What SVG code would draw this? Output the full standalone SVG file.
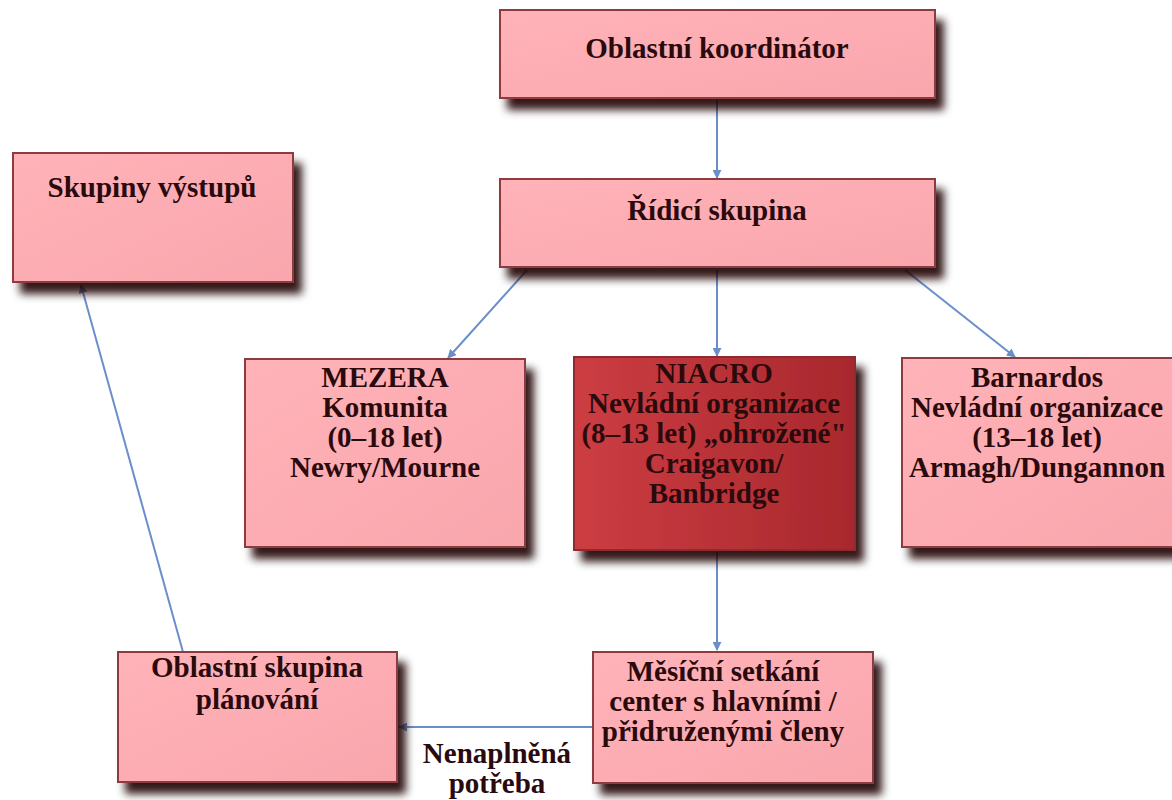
<svg xmlns="http://www.w3.org/2000/svg" width="1172" height="800" viewBox="0 0 1172 800">
<defs>
<filter id="sh" x="-10%" y="-10%" width="130%" height="140%">
<feDropShadow dx="8" dy="11" stdDeviation="4.5" flood-color="#1a0404" flood-opacity="0.9"/>
</filter>
<linearGradient id="pink" x1="0" y1="0" x2="1" y2="1">
<stop offset="0" stop-color="#FFB3B8"/>
<stop offset="1" stop-color="#F9A6AD"/>
</linearGradient>
<linearGradient id="red" x1="0" y1="0" x2="1" y2="0">
<stop offset="0" stop-color="#CC3D42"/>
<stop offset="1" stop-color="#A8282D"/>
</linearGradient>
<marker id="ah" viewBox="0 0 10 10" refX="9" refY="5" markerWidth="9" markerHeight="9" orient="auto" markerUnits="userSpaceOnUse">
<path d="M0,0 L10,5 L0,10 z" fill="#6A8FC8"/>
</marker>
<style>
.box{fill:url(#pink);stroke:#8E3B40;stroke-width:2;filter:url(#sh)}
.dark{fill:url(#red);stroke:#8E2B30;stroke-width:2;filter:url(#sh)}
text{font-family:'Liberation Serif','DejaVu Serif',serif;font-weight:bold;font-size:29px;fill:#2a0a0c;text-anchor:middle}
.conn line{stroke:#6A8FC8;stroke-width:2;marker-end:url(#ah)}
</style>
</defs>
<rect width="1172" height="800" fill="#ffffff"/>
<g class="conn">
<line x1="717" y1="100" x2="717" y2="178"/>
<line x1="527" y1="270" x2="448" y2="358"/>
<line x1="717" y1="270" x2="717" y2="356"/>
<line x1="905" y1="270" x2="1015" y2="357"/>
<line x1="717" y1="552" x2="717" y2="650"/>
<line x1="593" y1="727" x2="399" y2="727"/>
<line x1="183" y1="652" x2="81" y2="285"/>
</g>
<g id="n-koordinator">
<rect class="box" x="500" y="10" width="435" height="88"/>
<text x="717" y="58">Oblastní koordinátor</text>
</g>
<g id="n-ridici">
<rect class="box" x="500" y="179" width="435" height="88"/>
<text x="717" y="220">Řídicí skupina</text>
</g>
<g id="n-vystupy">
<rect class="box" x="13" y="153" width="280" height="129"/>
<text x="152" y="197">Skupiny výstupů</text>
</g>
<g id="n-mezera">
<rect class="box" x="245" y="359" width="280" height="188"/>
<text x="385" y="387">MEZERA</text>
<text x="385" y="417">Komunita</text>
<text x="385" y="447">(0–18 let)</text>
<text x="385" y="477">Newry/Mourne</text>
</g>
<g id="n-niacro">
<rect class="dark" x="574" y="357" width="281" height="193"/>
<text x="714" y="383">NIACRO</text>
<text x="714" y="413">Nevládní organizace</text>
<text x="714" y="443">(8–13 let) „ohrožené"</text>
<text x="714" y="473">Craigavon/</text>
<text x="714" y="503">Banbridge</text>
</g>
<g id="n-barnardos">
<rect class="box" x="902" y="358" width="280" height="189"/>
<text x="1037" y="387">Barnardos</text>
<text x="1037" y="417">Nevládní organizace</text>
<text x="1037" y="447">(13–18 let)</text>
<text x="1037" y="477">Armagh/Dungannon</text>
</g>
<g id="n-planovani">
<rect class="box" x="118" y="652" width="279" height="130"/>
<text x="257" y="677">Oblastní skupina</text>
<text x="257" y="709">plánování</text>
</g>
<g id="n-setkani">
<rect class="box" x="593" y="652" width="280" height="131"/>
<text x="723" y="681">Měsíční setkání</text>
<text x="723" y="711">center s hlavními /</text>
<text x="723" y="741">přidruženými členy</text>
</g>
<g id="label-potreba">
<text x="497" y="763">Nenaplněná</text>
<text x="497" y="793">potřeba</text>
</g>
</svg>
